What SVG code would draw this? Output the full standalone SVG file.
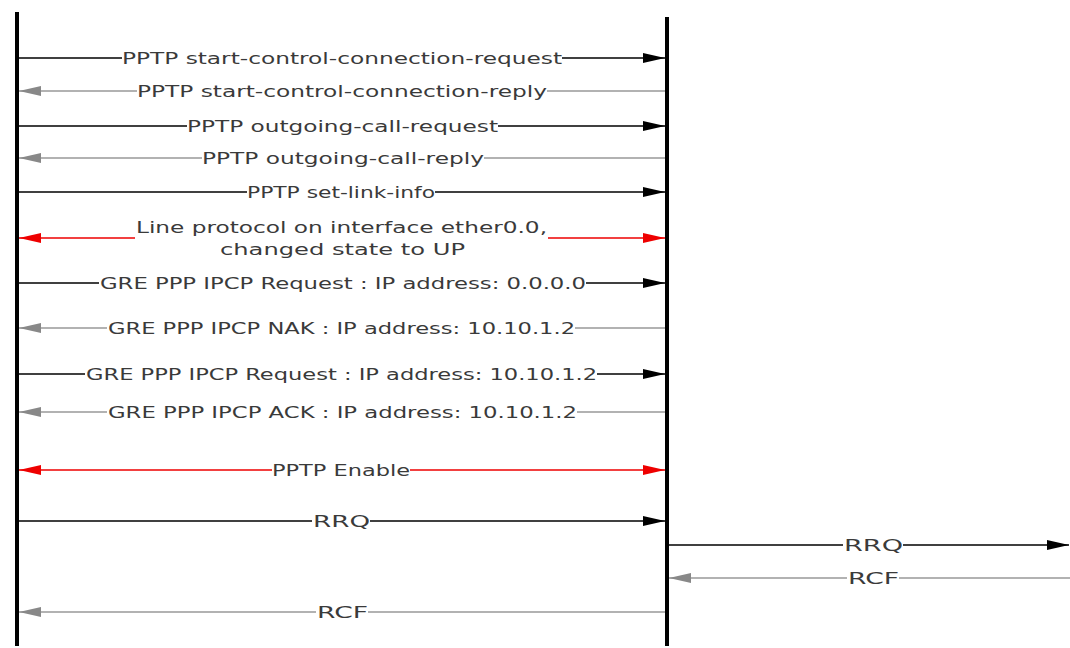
<svg xmlns="http://www.w3.org/2000/svg" width="1070" height="648" viewBox="0 0 1070 648">
<defs>
<marker id="ab" viewBox="0 0 22 10" refX="22" refY="5" markerWidth="22" markerHeight="10" markerUnits="userSpaceOnUse" orient="auto"><path d="M0,0 L22,5 L0,10 z" fill="#000"/></marker>
<marker id="ag" viewBox="0 0 22 10" refX="22" refY="5" markerWidth="22" markerHeight="10" markerUnits="userSpaceOnUse" orient="auto"><path d="M0,0 L22,5 L0,10 z" fill="#888"/></marker>
<marker id="ar" viewBox="0 0 22 10" refX="22" refY="5" markerWidth="22" markerHeight="10" markerUnits="userSpaceOnUse" orient="auto"><path d="M0,0 L22,5 L0,10 z" fill="#e00"/></marker>
</defs>
<style>
.life{stroke:#000;stroke-width:4;fill:none}
.b{stroke:#000;stroke-width:1.5;fill:none}
.g{stroke:#999;stroke-width:1.3;fill:none}
.r{stroke:#e00;stroke-width:1.3;fill:none}
.t{font-family:"DejaVu Sans","Liberation Sans",sans-serif;font-size:16px;fill:#3a3a3a}
</style>
<rect width="1070" height="648" fill="#fff"/>
<g id="lifeline-left"><line class="life" x1="17" y1="12" x2="17" y2="646"/></g>
<g id="lifeline-right"><line class="life" x1="667" y1="17" x2="667" y2="646"/></g>
<g id="connectors">
<line class="b" x1="19" y1="58" x2="122" y2="58"/><line class="b" x1="562" y1="58" x2="665" y2="58" marker-end="url(#ab)"/>
<line class="g" x1="665" y1="91" x2="547" y2="91"/><line class="g" x1="137" y1="91" x2="19" y2="91" marker-end="url(#ag)"/>
<line class="b" x1="19" y1="126" x2="187" y2="126"/><line class="b" x1="498" y1="126" x2="665" y2="126" marker-end="url(#ab)"/>
<line class="g" x1="665" y1="158" x2="484" y2="158"/><line class="g" x1="202" y1="158" x2="19" y2="158" marker-end="url(#ag)"/>
<line class="b" x1="19" y1="192" x2="247" y2="192"/><line class="b" x1="435" y1="192" x2="665" y2="192" marker-end="url(#ab)"/>
<line class="r" x1="135" y1="238" x2="19" y2="238" marker-end="url(#ar)"/><line class="r" x1="548" y1="238" x2="665" y2="238" marker-end="url(#ar)"/>
<line class="b" x1="19" y1="283" x2="99" y2="283"/><line class="b" x1="586" y1="283" x2="665" y2="283" marker-end="url(#ab)"/>
<line class="g" x1="665" y1="328" x2="575" y2="328"/><line class="g" x1="107" y1="328" x2="19" y2="328" marker-end="url(#ag)"/>
<line class="b" x1="19" y1="374" x2="85" y2="374"/><line class="b" x1="597" y1="374" x2="665" y2="374" marker-end="url(#ab)"/>
<line class="g" x1="665" y1="412" x2="577" y2="412"/><line class="g" x1="107" y1="412" x2="19" y2="412" marker-end="url(#ag)"/>
<line class="r" x1="272" y1="470" x2="19" y2="470" marker-end="url(#ar)"/><line class="r" x1="410" y1="470" x2="665" y2="470" marker-end="url(#ar)"/>
<line class="b" x1="19" y1="521" x2="312" y2="521"/><line class="b" x1="370" y1="521" x2="665" y2="521" marker-end="url(#ab)"/>
<line class="b" x1="669" y1="545" x2="843" y2="545"/><line class="b" x1="903" y1="545" x2="1069" y2="545" marker-end="url(#ab)"/>
<line class="g" x1="1070" y1="578" x2="899" y2="578"/><line class="g" x1="847" y1="578" x2="669" y2="578" marker-end="url(#ag)"/>
<line class="g" x1="665" y1="612" x2="368" y2="612"/><line class="g" x1="316" y1="612" x2="19" y2="612" marker-end="url(#ag)"/>
</g>
<g id="labels" class="t">
<text x="122" y="64" textLength="440" lengthAdjust="spacingAndGlyphs">PPTP start-control-connection-request</text>
<text x="137" y="97" textLength="410" lengthAdjust="spacingAndGlyphs">PPTP start-control-connection-reply</text>
<text x="187" y="132" textLength="311" lengthAdjust="spacingAndGlyphs">PPTP outgoing-call-request</text>
<text x="202" y="164" textLength="282" lengthAdjust="spacingAndGlyphs">PPTP outgoing-call-reply</text>
<text x="247" y="198" textLength="188" lengthAdjust="spacingAndGlyphs">PPTP set-link-info</text>
<text x="136" y="233" textLength="411" lengthAdjust="spacingAndGlyphs">Line protocol on interface ether0.0,</text>
<text x="220" y="255" textLength="245" lengthAdjust="spacingAndGlyphs">changed state to UP</text>
<text x="100" y="289" textLength="486" lengthAdjust="spacingAndGlyphs">GRE PPP IPCP Request : IP address: 0.0.0.0</text>
<text x="108" y="334" textLength="467" lengthAdjust="spacingAndGlyphs">GRE PPP IPCP NAK : IP address: 10.10.1.2</text>
<text x="86" y="380" textLength="511" lengthAdjust="spacingAndGlyphs">GRE PPP IPCP Request : IP address: 10.10.1.2</text>
<text x="108" y="418" textLength="469" lengthAdjust="spacingAndGlyphs">GRE PPP IPCP ACK : IP address: 10.10.1.2</text>
<text x="272" y="476" textLength="138" lengthAdjust="spacingAndGlyphs">PPTP Enable</text>
<text x="313" y="527" textLength="57" lengthAdjust="spacingAndGlyphs">RRQ</text>
<text x="844" y="551" textLength="59" lengthAdjust="spacingAndGlyphs">RRQ</text>
<text x="848" y="584" textLength="51" lengthAdjust="spacingAndGlyphs">RCF</text>
<text x="317" y="618" textLength="51" lengthAdjust="spacingAndGlyphs">RCF</text>
</g>
</svg>
